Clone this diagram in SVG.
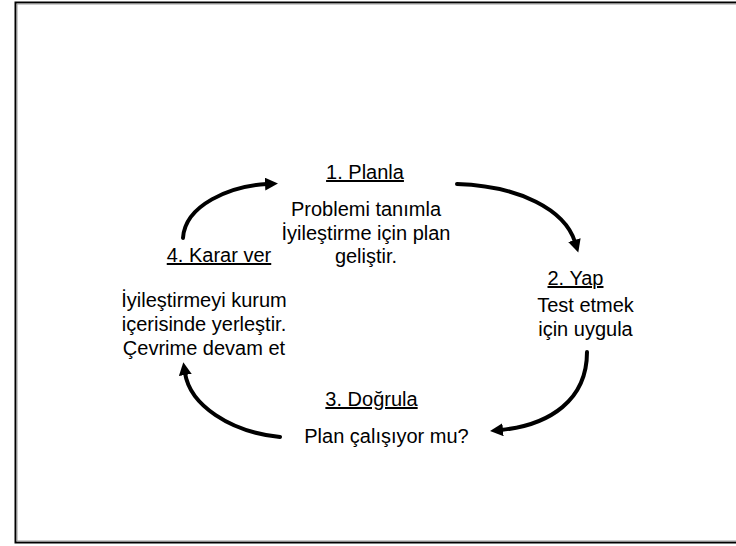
<svg xmlns="http://www.w3.org/2000/svg" width="736" height="546" viewBox="0 0 736 546">
<style>
text{font-family:"Liberation Sans",Arial,sans-serif;font-size:20px;fill:#000;text-anchor:middle}
.h{text-decoration:underline}
.arc{fill:none;stroke:#000;stroke-width:4;stroke-linecap:round;marker-end:url(#ah)}
</style>
<defs>
<marker id="ah" markerUnits="userSpaceOnUse" markerWidth="14" markerHeight="14" refX="2" refY="6.5" orient="auto">
<path d="M0,0 L13,6.5 L0,13 z" fill="#000"/>
</marker>
</defs>
<rect x="15.5" y="2.5" width="740" height="540" fill="#fff" stroke="#000" stroke-width="2"/>
<rect x="17" y="4" width="740" height="537" fill="none" stroke="#999" stroke-width="1"/>
<g id="connectors">
<path class="arc" d="M183,238 C185,205 230,186 267,184"/>
<path class="arc" d="M457,184 C520,186 565,210 575,242"/>
<path class="arc" d="M587,352 C587,400 550,425 501,430"/>
<path class="arc" d="M280,437 C230,432 190,405 185,373"/>
</g>
<g id="n1">
<text class="h" x="365" y="179">1. Planla</text>
<text x="366" y="216">Problemi tanımla</text>
<text x="366" y="239.5">İyileştirme için plan</text>
<text x="366" y="263">geliştir.</text>
</g>
<g id="n2">
<text class="h" x="575.5" y="285">2. Yap</text>
<text x="585.5" y="311.5">Test etmek</text>
<text x="585.5" y="336">için uygula</text>
</g>
<g id="n3">
<text class="h" x="371.5" y="406">3. Doğrula</text>
<text x="386.5" y="443">Plan çalışıyor mu?</text>
</g>
<g id="n4">
<text class="h" x="219" y="262">4. Karar ver</text>
<text x="204" y="307">İyileştirmeyi kurum</text>
<text x="204" y="331">içerisinde yerleştir.</text>
<text x="204" y="354.5">Çevrime devam et</text>
</g>
</svg>
